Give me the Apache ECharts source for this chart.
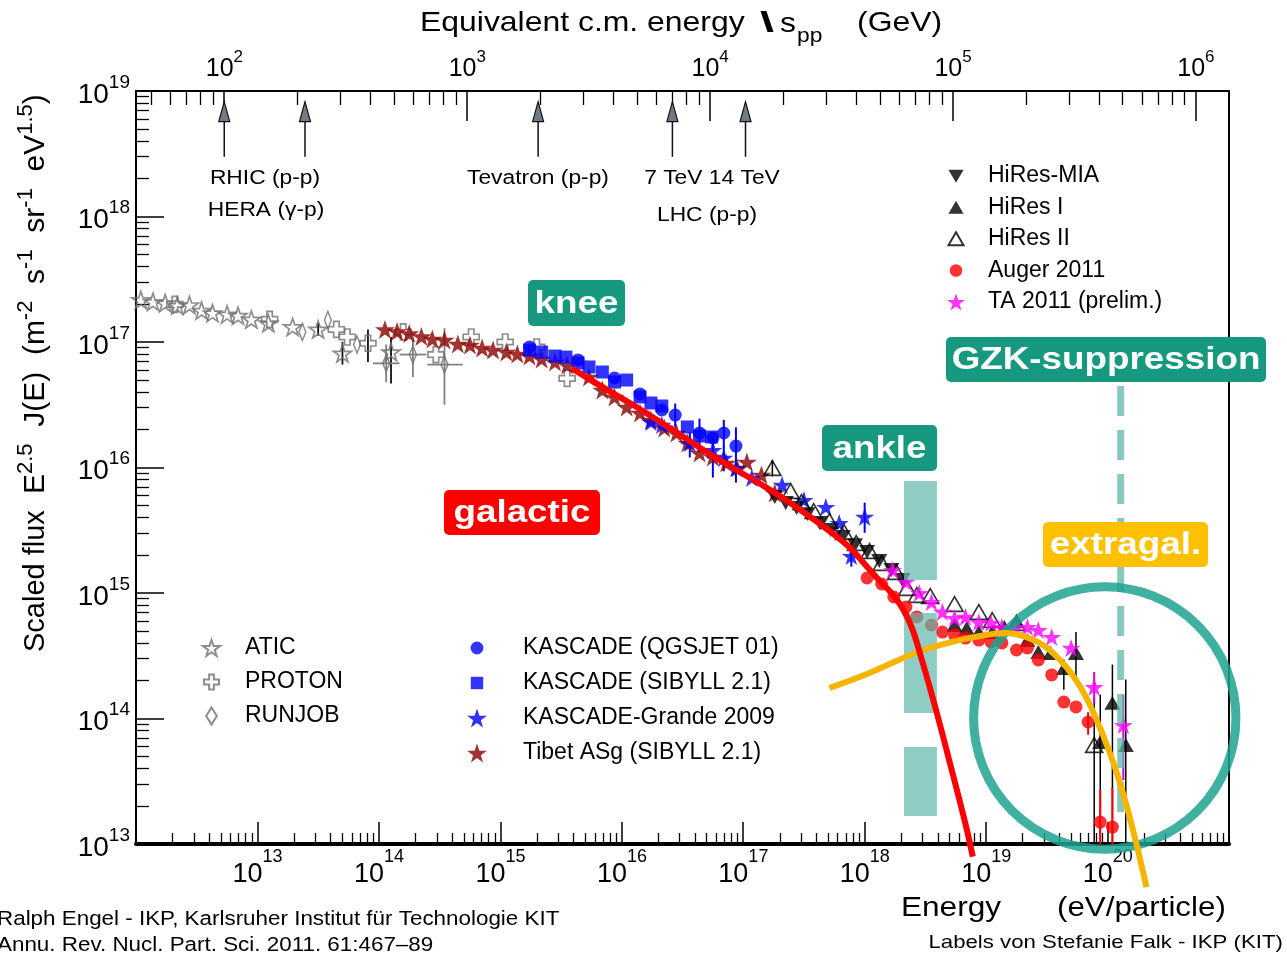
<!DOCTYPE html>
<html><head><meta charset="utf-8">
<script src="https://cdn.jsdelivr.net/npm/echarts@6/dist/echarts.min.js"></script>
<style>html,body{margin:0;padding:0;background:#fff}#c{width:1287px;height:957px}</style>
</head><body><div id="c"></div>
<script>
// All values: [log10(E / eV), log10(E^2.5 J(E))]
const atic = [[12.04,17.335],[12.14,17.32],[12.24,17.31],[12.34,17.29],[12.44,17.295],[12.54,17.25],[12.63,17.23],[12.75,17.22],[12.84,17.21],[12.95,17.18],[13.09,17.15],[13.29,17.12],[13.50,17.10],[13.70,16.91],[14.10,16.92]];
const aticErr = [[13.50,17.05,17.15],[13.70,16.82,17.00],[13.91,16.84,17.10],[14.10,16.67,17.04]];
const proton = [[12.32,17.30],[13.10,17.18],[13.65,17.10],[13.74,17.04],[13.91,16.99],[14.20,17.08],[14.47,16.90],[14.76,17.04],[15.04,17.00],[15.30,16.96],[15.55,16.71]];
const runjob = [[13.37,17.08],[13.58,17.175],[13.82,16.98],[14.06,16.83],[14.28,16.90],[14.54,16.82]];
const runjobErrY = [[14.06,16.68,16.98],[14.28,16.72,17.02],[14.54,16.50,17.11]];
const runjobErrX = [[16.83,13.95,14.17],[16.90,14.17,14.39],[16.82,14.40,14.69]];
const tibet = [[14.05,17.10],[14.15,17.084],[14.25,17.068],[14.35,17.044],[14.44,17.024],[14.54,17.016],[14.65,16.984],[14.75,16.976],[14.85,16.952],[14.94,16.936],[15.05,16.92],[15.14,16.904],[15.24,16.888],[15.34,16.865],[15.45,16.841],[15.55,16.817],[15.73,16.721],[15.84,16.618],[15.94,16.562],[16.04,16.482],[16.15,16.434],[16.24,16.378],[16.35,16.315],[16.45,16.275],[16.54,16.195],[16.64,16.116],[16.75,16.084],[16.86,16.036],[16.95,15.996],[17.03,16.044],[17.15,15.94],[17.26,15.797]];
const kascadeSibyll = [[15.24,16.936],[15.34,16.92],[15.45,16.888],[15.54,16.88],[15.64,16.833],[15.73,16.801],[15.84,16.761],[15.94,16.681],[16.04,16.697],[16.15,16.562],[16.24,16.514],[16.33,16.49],[16.54,16.323],[16.64,16.251],[16.74,16.243]];
const kascadeQgsjet = [[15.24,16.96],[15.64,16.857],[15.94,16.713],[16.15,16.586],[16.33,16.458],[16.44,16.418],[16.64,16.275],[16.75,16.235],[16.84,16.275],[16.94,16.171]];
const kascadeQgsjetErr = [[16.44,16.32,16.51],[16.64,16.12,16.39],[16.84,16.16,16.38],[16.94,15.88,16.32]];
const grande = [[16.24,16.363],[16.33,16.339],[16.56,16.195],[16.75,16.139],[16.84,16.076],[16.94,15.996],[17.07,15.916],[17.32,15.861],[17.50,15.741],[17.68,15.685],[17.79,15.558],[17.89,15.295],[18.00,15.606]];
const grandeErr = [[16.56,16.08,16.28],[16.75,15.92,16.24],[16.84,15.97,16.17],[17.89,15.21,15.37],[18.00,15.48,15.72]];
const hiresMia = [[17.26,15.765],[17.35,15.717],[17.44,15.677],[17.53,15.629],[17.63,15.558],[17.72,15.502],[17.82,15.446],[17.92,15.382],[18.02,15.327],[18.12,15.255],[18.22,15.183],[18.31,15.104]];
const hiresI = [[18.74,14.745],[18.84,14.721],[18.94,14.689],[19.05,14.689],[19.15,14.729],[19.25,14.777],[19.34,14.625],[19.43,14.53],[19.53,14.522],[19.64,14.402],[19.74,14.522],[19.94,13.813],[20.04,14.124],[20.15,13.789]];
const hiresIErr = [[19.64,14.23,14.47],[19.74,14.31,14.69],[19.94,13.0,14.19],[20.04,13.0,14.43],[20.15,13.0,14.31]];
const hiresII = [[17.24,15.996],[17.39,15.813],[17.48,15.725],[17.58,15.653],[17.71,15.574],[17.83,15.486],[17.93,15.398],[18.04,15.335],[18.14,15.239],[18.26,15.167],[18.35,15.04],[18.43,14.984],[18.54,14.976],[18.74,14.912],[18.94,14.849],[19.05,14.785],[19.25,14.761],[19.89,13.789]];
const hiresIIErr = [[17.24,15.93,16.06],[19.89,13.0,14.17]];
const auger = [[18.02,15.12],[18.14,15.072],[18.24,14.968],[18.34,14.888],[18.43,14.809],[18.55,14.745],[18.64,14.689],[18.74,14.665],[18.83,14.641],[18.94,14.625],[19.04,14.61],[19.13,14.602],[19.25,14.546],[19.34,14.562],[19.43,14.466],[19.54,14.347],[19.64,14.131],[19.74,14.092],[19.84,13.972],[19.94,13.175],[20.04,13.135]];
const augerErr = [[19.84,13.87,14.05],[19.94,13.0,13.43],[20.04,13.0,13.45]];
const ta = [[18.23,15.183],[18.34,15.088],[18.45,15.0],[18.55,14.928],[18.64,14.849],[18.74,14.801],[18.83,14.809],[18.94,14.769],[19.04,14.761],[19.13,14.729],[19.24,14.721],[19.34,14.729],[19.43,14.705],[19.54,14.649],[19.70,14.562],[19.89,14.251],[20.13,13.948]];
const taErr = [[19.89,14.12,14.37],[20.13,13.51,14.19]];
const galacticCurve = [[15.59,16.79],[15.86,16.63],[16.09,16.50],[16.37,16.33],[16.64,16.16],[16.91,16.00],[17.19,15.84],[17.46,15.67],[17.73,15.48],[17.88,15.36],[18.01,15.22],[18.12,15.10],[18.22,15.00],[18.31,14.88],[18.39,14.72],[18.47,14.47],[18.55,14.20],[18.62,13.95],[18.69,13.69],[18.77,13.39],[18.84,13.12],[18.89,12.90]];
const extragalCurve = [[17.71,14.243],[18.04,14.363],[18.42,14.522],[18.72,14.61],[19.00,14.665],[19.16,14.681],[19.33,14.649],[19.49,14.57],[19.66,14.41],[19.79,14.227],[19.90,14.012],[20.01,13.749],[20.12,13.43],[20.23,13.032],[20.32,12.657]];
// accelerator energies, sqrt(s) in GeV
const accelSqrtS = [100, 215, 1960, 7000, 14000];
const arrowTipLogF = 18.915, arrowTailLogF = 18.476;
// annotations (data units)
const ankleBand = {e0: 18.324, e1: 18.595, segs: [[15.104,15.892],[14.044,14.841],[13.223,13.773]]};
const gzkCircle = {logE: 19.977, logF: 14.004, rE: 1.08};
const gzkLine = {logE: 20.108, top: 16.65, bottom: 13.19};
// ticks
const eMajor = [13,14,15,16,17,18,19,20];
const fMajor = [13,14,15,16,17,18,19];
const sMajor = [2,3,4,5,6];
const MP = 0.938272;
const sMin = 0.5*(Math.log10(2*MP) + 12 - 9), sMax = 0.5*(Math.log10(2*MP) + 21 - 9);
function minorTicks(lo, hi){const r=[];for(let n=Math.floor(lo);n<hi;n++){for(let k=2;k<=9;k++){const v=n+Math.log10(k);if(v>lo&&v<hi)r.push(v);}}return r;}
const eMinor = minorTicks(12,21), fMinor = minorTicks(13,19), sMinor = minorTicks(sMin,sMax);

const FONT = '"Liberation Sans", Arial, Helvetica, sans-serif';
const starPath = 'path://M50,0L61.8,35.1L98.5,35.1L68.8,56.8L79.4,91.6L50,70.3L20.6,91.6L31.2,56.8L1.5,35.1L38.2,35.1Z';
const crossPath = 'path://M33,0H67V33H100V67H67V100H33V67H0V33H33Z';
const triUp = 'path://M50,0L100,86.6H0Z';
const triDown = 'path://M0,0H100L50,86.6Z';
const diamond = 'path://M50,0L100,80L50,160L0,80Z';
// legend icons (padded so they appear smaller than the icon box)
const icoCircleS = 'path://M0,0M100,100M50,18A32,32,0,1,1,49.99,18Z';
const icoSquareS = 'path://M0,0M100,100M19,19H81V81H19Z';
const icoCircleM = 'path://M0,0M100,100M50,15A35,35,0,1,1,49.99,15Z';
const icoTriUp = 'path://M0,0M100,100M50,12L92,85H8Z';
const icoTriDown = 'path://M0,0M100,100M8,15H92L50,88Z';
const icoCross = 'path://M0,0M100,100M36,6H64V36H94V64H64V94H36V64H6V36H36Z';

function tickRich(bs, ss, hlh){
  return {h:{fontSize:1, lineHeight:hlh, fontFamily:FONT},
          b:{fontSize:bs, lineHeight:28, verticalAlign:'bottom', fontFamily:FONT, color:'#000'},
          s:{fontSize:ss, lineHeight:22, verticalAlign:'top', fontFamily:FONT, color:'#000'}};
}
const pow10 = v => '{h| }{b|10}{s|' + Math.round(v) + '}';

function errY(data, color, w){
  return {type:'custom', silent:true, z:1, data, renderItem:(p,api)=>{
    const a=api.coord([api.value(0),api.value(1)]), b=api.coord([api.value(0),api.value(2)]);
    return {type:'line', shape:{x1:a[0],y1:a[1],x2:b[0],y2:b[1]}, style:{stroke:color,lineWidth:w}};
  }};
}
function errX(data, color, w){
  return {type:'custom', silent:true, z:1, data, renderItem:(p,api)=>{
    const a=api.coord([api.value(1),api.value(0)]), b=api.coord([api.value(2),api.value(0)]);
    return {type:'line', shape:{x1:a[0],y1:a[1],x2:b[0],y2:b[1]}, style:{stroke:color,lineWidth:w}};
  }};
}
function sc(name, data, symbol, size, style){
  return {type:'scatter', name, data, symbol, symbolSize:size, symbolKeepAspect:true, itemStyle:style, z:2, silent:true};
}
const hollowGray = {color:'rgba(0,0,0,0)', borderColor:'#707070', borderWidth:1.7};

const series = [
  errY(aticErr,'#111',1.8), errY(runjobErrY,'#808080',1.8), errX(runjobErrX,'#808080',1.8),
  errY(kascadeQgsjetErr,'#0000ff',2), errY(grandeErr,'#0000ff',2),
  errY(hiresIIErr,'#000',1.5), errY(hiresIErr,'#000',1.5), errY(augerErr,'#ff0000',2), errY(taErr,'#d000d0',2),
  sc('ATIC', atic, starPath, 18, hollowGray),
  sc('PROTON', proton, crossPath, 16, hollowGray),
  sc('RUNJOB', runjob, diamond, [11,17], hollowGray),
  sc('Tibet ASg (SIBYLL 2.1)', tibet, starPath, 20, {color:'#8b0000'}),
  sc('KASCADE (QGSJET 01)', kascadeQgsjet, 'circle', 13, {color:'#0000ff'}),
  sc('KASCADE (SIBYLL 2.1)', kascadeSibyll, 'rect', 13, {color:'#0000ff'}),
  sc('KASCADE-Grande 2009', grande, starPath, 19, {color:'#0000ff'}),
  sc('HiRes-MIA', hiresMia, triDown, 16, {color:'#000'}),
  sc('HiRes I', hiresI, triUp, 16, {color:'#000'}),
  sc('HiRes II', hiresII, triUp, 17, {color:'rgba(0,0,0,0)', borderColor:'#000', borderWidth:1.7}),
  sc('Auger 2011', auger, 'circle', 13, {color:'#ff0000'}),
  sc('TA 2011 (prelim.)', ta, starPath, 19, {color:'#ff00ff'}),
  {type:'custom', silent:true, z:3, data:[[18.46,14.5]], renderItem:(p,api)=>({type:'group', children: ankleBand.segs.map(([f0,f1])=>{
     const a=api.coord([ankleBand.e0,f1]), b=api.coord([ankleBand.e1,f0]);
     return {type:'rect', shape:{x:a[0],y:a[1],width:b[0]-a[0],height:b[1]-a[1]}, style:{fill:'rgba(95,183,171,0.7)'}};})})},
  {type:'custom', silent:true, z:4, data:[[gzkLine.logE,gzkLine.top]], renderItem:(p,api)=>{
     const a=api.coord([gzkLine.logE,gzkLine.top]), b=api.coord([gzkLine.logE,gzkLine.bottom]);
     return {type:'line', shape:{x1:a[0],y1:a[1],x2:b[0],y2:b[1]}, style:{stroke:'rgba(95,183,171,0.75)', lineWidth:7, lineDash:[30,14]}};}},
  {type:'custom', silent:true, z:4, data:[[gzkCircle.logE,gzkCircle.logF]], renderItem:(p,api)=>{
     const c=api.coord([gzkCircle.logE,gzkCircle.logF]), e=api.coord([gzkCircle.logE+gzkCircle.rE,gzkCircle.logF]);
     return {type:'circle', shape:{cx:c[0],cy:c[1],r:e[0]-c[0]}, style:{fill:'none', stroke:'rgba(30,162,143,0.85)', lineWidth:9}};}},
  {type:'line', data: extragalCurve, smooth:0.4, symbol:'none', clip:false, silent:true, z:5, lineStyle:{color:'#f5b400', width:6}},
  {type:'line', data: galacticCurve, smooth:0.4, symbol:'none', clip:false, silent:true, z:6, lineStyle:{color:'#ff0000', width:6}},
  {type:'custom', silent:true, z:6, xAxisIndex:2, data: accelSqrtS.map(v=>[Math.log10(v)]), renderItem:(p,api)=>{
     const x=api.value(0); const tip=api.coord([x,arrowTipLogF]), tail=api.coord([x,arrowTailLogF]);
     const hb = tip[1]+20;
     return {type:'group', children:[
       {type:'line', shape:{x1:tail[0],y1:tail[1],x2:tip[0],y2:hb}, style:{stroke:'#111',lineWidth:1.5}},
       {type:'polygon', shape:{points:[[tip[0],tip[1]],[tip[0]-5.5,hb],[tip[0]+5.5,hb]]}, style:{fill:'#6f7c88',stroke:'#111',lineWidth:1.2}}]};}}
];

function legend(items, left, top, gap, sp, size){
  return {orient:'vertical', left, top, itemWidth:size, itemHeight:size, itemGap:gap, padding:0, selectedMode:false, symbolKeepAspect:true,
    data: items.map(it => typeof it === 'string' ? it : {name: it[0], icon: it[1]}),
    formatter: n => '{sp|}{t|' + n + '}',
    textStyle:{fontSize:23, lineHeight:24, rich:{sp:{width:sp}, t:{fontSize:23, lineHeight:24, fontFamily:FONT, color:'#000'}}}};
}

const T = (text, x, y, size, opts) => ({type:'text', x, y, z:20, scaleX:(opts&&opts.sx)||1.14,
  style:{text, font:((opts&&opts.bold)?'bold ':'') + size + 'px ' + FONT, fill:(opts&&opts.fill)||'#000',
  textAlign:(opts&&opts.align)||'left', align:(opts&&opts.align)||'left', textVerticalAlign:'middle', verticalAlign:'middle'}});
function box(label, x, y, w, h, color){
  return [{type:'rect', z:19, shape:{x,y,width:w,height:h,r:5}, style:{fill:color}},
          T(label, x+w/2, y+h/2+1, 32, {bold:true, fill:'#fff', align:'center', sx:1.15})];
}
const teal = '#16997f';

const graphics = [
  T('Equivalent c.m. energy', 420, 23, 28),
  {type:'text', x:760, y:23, z:20, scaleX:1.8, style:{text:'\\', font:'bold 28px '+FONT, fill:'#000', textVerticalAlign:'middle', verticalAlign:'middle'}},
  T('s', 780, 24, 28),
  T('pp', 797, 36, 20),
  T('(GeV)', 857, 23, 28),
  T('RHIC (p-p)', 265, 178, 20, {align:'center'}),
  T('HERA (γ-p)', 266, 210, 20, {align:'center'}),
  T('Tevatron (p-p)', 538, 178, 20, {align:'center'}),
  T('7 TeV 14 TeV', 712, 178, 20, {align:'center'}),
  T('LHC (p-p)', 707, 215, 20, {align:'center'}),
  T('Energy', 951, 909, 27, {align:'center', sx:1.17}),
  T('(eV/particle)', 1057, 909, 27, {sx:1.16}),
  T('Ralph Engel - IKP, Karlsruher Institut für Technologie KIT', -3, 919, 20, {sx:1.12}),
  T('Annu. Rev. Nucl. Part. Sci. 2011. 61:467–89', -3, 945, 20, {sx:1.12}),
  T('Labels von Stefanie Falk - IKP (KIT)', 1283, 943, 19, {align:'right', sx:1.17}),
  {type:'group', x:36, y:652, rotation:Math.PI/2, z:20, children:[{type:'text', x:0, y:0, style:{
    text:'{f|Scaled flux  }{n|E}{s|2.5}{n|  J(E)  (m}{s|-2}{n|  s}{s|-1}{n|  sr}{s|-1}{n|  eV}{s|1.5}{n|)}',
    textVerticalAlign:'middle', verticalAlign:'middle', textAlign:'left', align:'left',
    rich:{f:{fontSize:29, lineHeight:42, fontFamily:FONT, color:'#000'},
          n:{fontSize:30, lineHeight:42, fontFamily:FONT, color:'#000'},
          s:{fontSize:22, lineHeight:22, verticalAlign:'top', fontFamily:FONT, color:'#000'}}}}]},
  ...box('knee', 528, 280, 97, 46, teal),
  ...box('ankle', 822, 425, 115, 46, teal),
  ...box('galactic', 444, 490, 156, 45, '#ff0000'),
  ...box('GZK-suppression', 946, 337, 320, 45, teal),
  ...box('extragal.', 1043, 522, 165, 45, '#ffc000')
];

const axBase = {type:'value', splitLine:{show:false}, axisPointer:{show:false}};
const option = {
  animation:false,
  grid:{left:136, right:58, top:91, bottom:113, show:false},
  xAxis:[
    Object.assign({}, axBase, {min:12, max:21, position:'bottom', axisLine:{show:true,onZero:false,lineStyle:{color:'#000',width:4}},
      axisTick:{show:true,inside:true,length:22,customValues:eMajor,lineStyle:{color:'#000',width:1.5}},
      axisLabel:{show:true,customValues:eMajor,formatter:pow10,rich:tickRich(27,18,40),margin:4}}),
    Object.assign({}, axBase, {min:12, max:21, position:'bottom', axisLine:{show:false,onZero:false},
      axisTick:{show:true,inside:true,length:11,customValues:eMinor,lineStyle:{color:'#000',width:1.3}}, axisLabel:{show:false}}),
    Object.assign({}, axBase, {min:sMin, max:sMax, position:'top', axisLine:{show:true,onZero:false,lineStyle:{color:'#000',width:2}},
      axisTick:{show:true,inside:true,length:30,customValues:sMajor,lineStyle:{color:'#000',width:1.5}},
      axisLabel:{show:true,customValues:sMajor,formatter:pow10,rich:tickRich(25,17,33),margin:9}}),
    Object.assign({}, axBase, {min:sMin, max:sMax, position:'top', axisLine:{show:false,onZero:false},
      axisTick:{show:true,inside:true,length:14,customValues:sMinor,lineStyle:{color:'#000',width:1.3}}, axisLabel:{show:false}})
  ],
  yAxis:[
    Object.assign({}, axBase, {min:13, max:19, position:'left', axisLine:{show:true,onZero:false,lineStyle:{color:'#000',width:2}},
      axisTick:{show:true,inside:true,length:28,customValues:fMajor,lineStyle:{color:'#000',width:1.5}},
      axisLabel:{show:true,customValues:fMajor,formatter:pow10,rich:tickRich(28,19,36),margin:6}}),
    Object.assign({}, axBase, {min:13, max:19, position:'left', axisLine:{show:false,onZero:false},
      axisTick:{show:true,inside:true,length:13,customValues:fMinor,lineStyle:{color:'#000',width:1.3}}, axisLabel:{show:false}}),
    Object.assign({}, axBase, {min:13, max:19, position:'right', axisLine:{show:true,onZero:false,lineStyle:{color:'#000',width:2}},
      axisTick:{show:false}, axisLabel:{show:false}})
  ],
  legend:[
    legend(['ATIC',['PROTON',icoCross],'RUNJOB'], 202, 636, 10, 20, 17),
    legend([['KASCADE (QGSJET 01)',icoCircleS],['KASCADE (SIBYLL 2.1)',icoSquareS],'KASCADE-Grande 2009','Tibet ASg (SIBYLL 2.1)'], 467, 636, 11, 31, 20),
    legend([['HiRes-MIA',icoTriDown],['HiRes I',icoTriUp],['HiRes II',icoTriUp],['Auger 2011',icoCircleM],'TA 2011 (prelim.)'], 946, 164, 7.5, 18, 18)
  ],
  series,
  graphic: graphics
};
const chart = echarts.init(document.getElementById('c'), null, {renderer:'canvas'});
chart.setOption(option);
</script></body></html>
